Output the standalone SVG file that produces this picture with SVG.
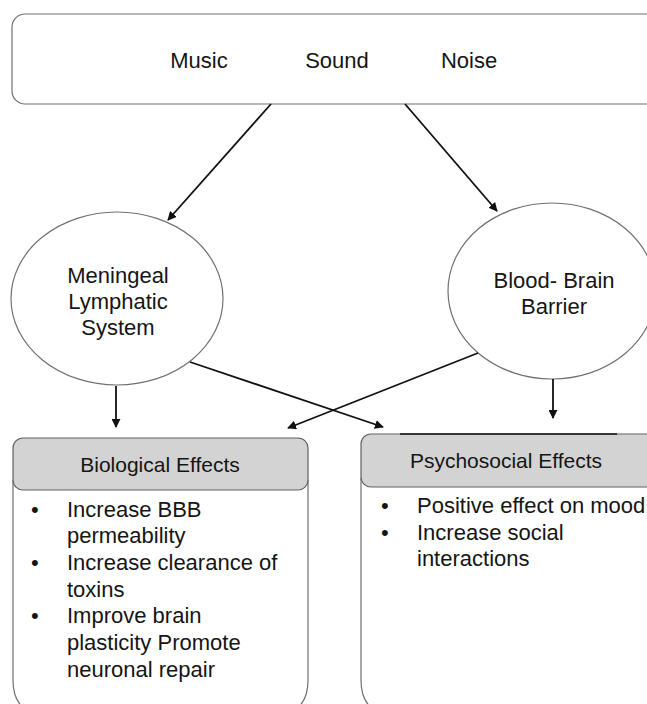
<svg xmlns="http://www.w3.org/2000/svg" width="647" height="704" viewBox="0 0 647 704">
<defs>
<marker id="ah" viewBox="0 0 10 10" refX="9" refY="5" markerWidth="5" markerHeight="5" orient="auto" markerUnits="strokeWidth">
<path d="M0,0 L10,5 L0,10 z" fill="#111"/>
</marker>
<style>
text{font-family:"Liberation Sans",Arial,sans-serif;fill:#151515}
.t22{font-size:22px}
.h21{font-size:21px}
.mid{text-anchor:middle}
.shape{fill:#fff;stroke:#707070;stroke-width:1.2}
.hdr{fill:#d3d3d3;stroke:#606060;stroke-width:1.2}
.conn{stroke:#111;stroke-width:1.8;fill:none;marker-end:url(#ah)}
</style>
</defs>
<rect width="647" height="704" fill="#fff"/>
<g id="sources">
<rect class="shape" x="12" y="14" width="650" height="90" rx="13"/>
<text class="t22 mid" x="199" y="68">Music</text>
<text class="t22 mid" x="337" y="68">Sound</text>
<text class="t22 mid" x="469" y="68">Noise</text>
</g>
<g id="meningeal">
<ellipse class="shape" cx="117" cy="298.5" rx="106" ry="86.5" stroke="#555"/>
<text class="t22 mid" x="118" y="283">Meningeal</text>
<text class="t22 mid" x="118" y="309">Lymphatic</text>
<text class="t22 mid" x="118" y="335">System</text>
</g>
<g id="bbb">
<ellipse class="shape" cx="552" cy="291" rx="104" ry="88" stroke="#555"/>
<text class="t22 mid" x="554" y="288">Blood- Brain</text>
<text class="t22 mid" x="554" y="314">Barrier</text>
</g>
<g id="biological">
<path class="shape" d="M13,480 V680 Q13,715 48,715 H273 Q308,715 308,680 V480"/>
<rect class="hdr" x="13" y="438" width="295" height="52" rx="10"/>
<text class="h21 mid" x="160" y="472">Biological Effects</text>
<text class="t22" x="31" y="517">•</text><text class="t22" x="67" y="517">Increase BBB</text>
<text class="t22" x="67" y="543">permeability</text>
<text class="t22" x="31" y="570">•</text><text class="t22" x="67" y="570">Increase clearance of</text>
<text class="t22" x="67" y="597">toxins</text>
<text class="t22" x="31" y="623">•</text><text class="t22" x="67" y="623">Improve brain</text>
<text class="t22" x="67" y="650">plasticity Promote</text>
<text class="t22" x="67" y="677">neuronal repair</text>
</g>
<g id="psychosocial">
<path class="shape" d="M361,478 V680 Q361,715 396,715 H660"/>
<rect class="hdr" x="361" y="434" width="300" height="53" rx="10"/>
<line x1="400" y1="434" x2="617" y2="434" stroke="#111" stroke-width="1.6"/>
<text class="h21 mid" x="506" y="468">Psychosocial Effects</text>
<text class="t22" x="381" y="513">•</text><text class="t22" x="417" y="513">Positive effect on mood</text>
<text class="t22" x="381" y="540">•</text><text class="t22" x="417" y="540">Increase social</text>
<text class="t22" x="417" y="566">interactions</text>
</g>
<g id="connectors">
<line class="conn" x1="271" y1="104" x2="168" y2="220"/>
<line class="conn" x1="405" y1="104" x2="497" y2="211"/>
<line class="conn" x1="116" y1="386" x2="116" y2="427"/>
<line class="conn" x1="553" y1="379" x2="553" y2="418"/>
<line class="conn" x1="190" y1="362" x2="383" y2="427"/>
<line class="conn" x1="478" y1="353" x2="288" y2="428"/>
</g>
</svg>
